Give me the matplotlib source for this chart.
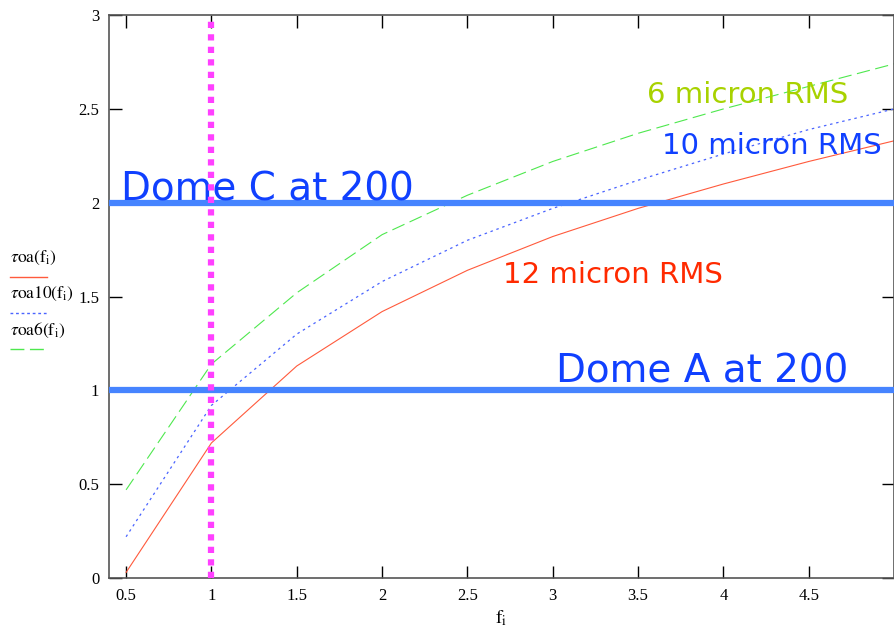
import numpy as np
import matplotlib.pyplot as plt
from matplotlib.lines import Line2D

plt.rcParams['mathtext.fontset'] = 'stix'

# optical depth vs frequency for three surface RMS values
f = [0.5, 1.0, 1.5, 2.0, 2.5, 3.0, 3.5, 4.0, 4.5, 5.0]
tau12 = [0.03, 0.72, 1.13, 1.42, 1.64, 1.82, 1.97, 2.10, 2.22, 2.33]
tau10 = [0.22, 0.92, 1.30, 1.58, 1.80, 1.97, 2.12, 2.26, 2.39, 2.50]
tau6 = [0.47, 1.14, 1.52, 1.83, 2.04, 2.22, 2.37, 2.50, 2.62, 2.74]

site_levels = [2.0, 1.0]
site_names = ['Dome C at 200', 'Dome A at 200']
f_mark = 1.0

xticks = [0.5, 1, 1.5, 2, 2.5, 3, 3.5, 4, 4.5]
xticklabels = ['0.5', '1', '1.5', '2', '2.5', '3', '3.5', '4', '4.5']
yticks = [0, 0.5, 1, 1.5, 2, 2.5, 3]
yticklabels = ['0', '0.5', '1', '1.5', '2', '2.5', '3']

red = '#ff5a3c'
blue = '#4a64ff'
green = '#4ee84e'
hline_col = '#4684ff'
magenta = '#ff40ff'
hand = 'DejaVu Sans'

fig = plt.figure(figsize=(8.95, 6.29), dpi=100)
ax = fig.add_axes([0.1218, 0.081, 0.8772, 0.895])

ax.plot(f, tau12, color=red, lw=0.8)
ax.plot(f, tau10, color=blue, lw=0.9, dashes=(2, 3))
ax.plot(f, tau6, color=green, lw=0.8, dashes=(12, 5))

for lev in site_levels:
    ax.axhline(lev, color=hline_col, lw=4.5, zorder=3)
ax.plot([f_mark, f_mark], [0.0, 2.97], color=magenta, lw=4.5,
        linestyle=(0, (1, 1)), solid_capstyle='butt', zorder=4)

ax.set_xlim(0.4, 5.0)
ax.set_ylim(0, 3)
ax.set_xticks(xticks)
ax.set_xticklabels(xticklabels)
ax.set_yticks(yticks)
ax.set_yticklabels(yticklabels)
ax.tick_params(direction='in', length=9, width=1, top=True, right=True,
               labelsize=12, pad=7)
for lab in ax.get_xticklabels() + ax.get_yticklabels():
    lab.set_family('Liberation Serif')
for sp in ax.spines.values():
    sp.set_color('#555555')
    sp.set_linewidth(1.2)

ax.set_xlabel(r'$\mathrm{f}_{\mathrm{i}}$', fontsize=14, labelpad=3)

# annotations
ax.text(0.47, 2.01, site_names[0], color='#1040ff', fontsize=28,
        family=hand, va='baseline')
ax.text(3.02, 1.04, site_names[1], color='#1040ff', fontsize=28,
        family=hand, va='baseline')
ax.text(3.55, 2.53, '6 micron RMS', color='#a8d200', fontsize=21,
        family=hand, va='baseline')
ax.text(3.64, 2.26, '10 micron RMS', color='#1040ff', fontsize=21,
        family=hand, va='baseline')
ax.text(2.71, 1.57, '12 micron RMS', color='#ff2a00', fontsize=21,
        family=hand, va='baseline')

# legend column on the left
leg = [(r'$\tau\mathrm{oa}\left(\mathrm{f}_{\mathrm{i}}\right)$', red, '-'),
       (r'$\tau\mathrm{oa10}\left(\mathrm{f}_{\mathrm{i}}\right)$', blue, (0, (2, 2))),
       (r'$\tau\mathrm{oa6}\left(\mathrm{f}_{\mathrm{i}}\right)$', green, (0, (10, 4)))]
W, H = 895, 629
for k, (lab, col, ls) in enumerate(leg):
    ty = 258 + k * 36
    fig.text(10 / W, 1 - ty / H, lab, fontsize=12.5, va='center', ha='left')
    ly = 1 - (ty + 19) / H
    fig.add_artist(Line2D([10 / W, 47 / W], [ly, ly], color=col, lw=1.0,
                          linestyle=ls, transform=fig.transFigure))

fig.savefig('out.png', dpi=100)
